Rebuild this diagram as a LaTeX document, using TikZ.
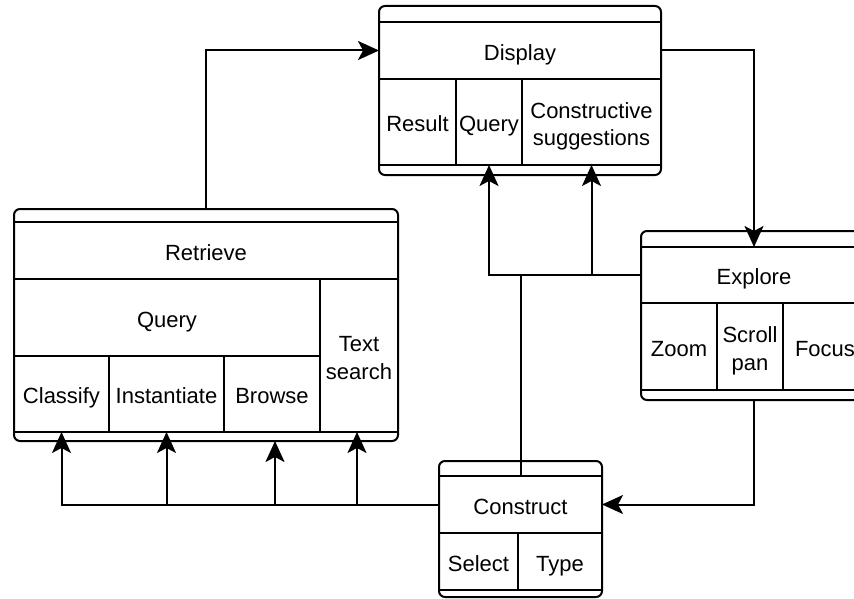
\documentclass[tikz,border=0pt]{standalone}
\usepackage{fontspec}
\setmainfont{Liberation Sans}
\usetikzlibrary{arrows.meta}
% one text line with a fixed height and depth, so labels line up across cells
\newcommand\cl[1]{\rule[-0.7pt]{0pt}{21.2pt}\smash{#1}}
\tikzset{
  cell/.style={draw, line width=2pt, inner sep=0pt, outer sep=0pt, align=center,
    font=\fontsize{22}{27.5}\selectfont},
  frame/.style={draw, fill=white, line width=2pt, rounded corners=6pt, inner sep=0pt, outer sep=0pt},
  link/.style={line width=2pt},
  arr/.style={link, -{Stealth[length=21pt, width=19pt, inset=5pt]}},
}
% \boxat{style}{name}{x1}{y1}{x2}{y2}{text}: a node filling the given rectangle
\newcommand\boxat[7]{%
  \node[#1, minimum width={(#5-#3)*1pt}, minimum height={(#6-#4)*1pt}]
    (#2) at ({(#3+#5)/2},{(#4+#6)/2}) {#7};}
\begin{document}
\begin{tikzpicture}[x=1pt, y=-1pt]
\useasboundingbox (0,0) rectangle (854,599);

% Display
\boxat{frame}{display}{379}{6}{661}{175}{}
\boxat{cell}{disp-title}{379}{22}{661}{79}{\cl{Display}}
\boxat{cell}{disp-result}{379}{79}{456}{165}{\cl{Result}}
\boxat{cell}{disp-query}{456}{79}{522}{165}{\cl{Query}}
\boxat{cell}{disp-sugg}{522}{79}{661}{165}{\cl{Constructive}\\\cl{suggestions}}

% Retrieve
\boxat{frame}{retrieve}{14}{209}{398}{441}{}
\boxat{cell}{ret-title}{14}{222}{398}{279}{\cl{Retrieve}}
\boxat{cell}{ret-query}{14}{279}{320}{356}{\cl{Query}}
\boxat{cell}{ret-text}{320}{279}{398}{432}{\cl{Text}\\\cl{search}}
\boxat{cell}{ret-classify}{14}{356}{109}{432}{\cl{Classify}}
\boxat{cell}{ret-inst}{109}{356}{224}{432}{\cl{Instantiate}}
\boxat{cell}{ret-browse}{224}{356}{320}{432}{\cl{Browse}}

% Explore
\boxat{frame}{explore}{641}{231}{867}{400}{}
\boxat{cell}{exp-title}{641}{247}{867}{303}{\cl{Explore}}
\boxat{cell}{exp-zoom}{641}{303}{717}{390}{\cl{Zoom}}
\boxat{cell}{exp-scroll}{717}{303}{783}{390}{\cl{Scroll}\\\cl{pan}}
\boxat{cell}{exp-focus}{783}{303}{867}{390}{\cl{Focus}}

% Construct
\boxat{frame}{construct}{439}{461}{602}{597}{}
\boxat{cell}{con-title}{439}{476}{602}{533}{\cl{Construct}}
\boxat{cell}{con-select}{439}{533}{518}{590}{\cl{Select}}
\boxat{cell}{con-type}{518}{533}{602}{590}{\cl{Type}}

% connectors
\draw[arr] (retrieve.north) |- (disp-title.west);
\draw[arr] (disp-title.east) -| (exp-title.north);
\draw[arr] (exp-title.west) -| (disp-query.south);
\draw[arr] (exp-title.west -| disp-sugg.south) -- (disp-sugg.south);
\draw[link] (con-title.north) -- (con-title.north |- exp-title.west);
\draw[arr] (con-title.west) -| (ret-classify.south);
\draw[arr] (con-title.west -| ret-inst.south) -- (ret-inst.south);
\draw[arr] ([xshift=3pt]con-title.west -| ret-browse.south) -- ([xshift=3pt]ret-browse.south |- retrieve.south);
\draw[arr] ([xshift=-2pt]con-title.west -| ret-text.south) -- ([xshift=-2pt]ret-text.south);
\draw[arr] (explore.south) |- (con-title.east);
\end{tikzpicture}
\end{document}
